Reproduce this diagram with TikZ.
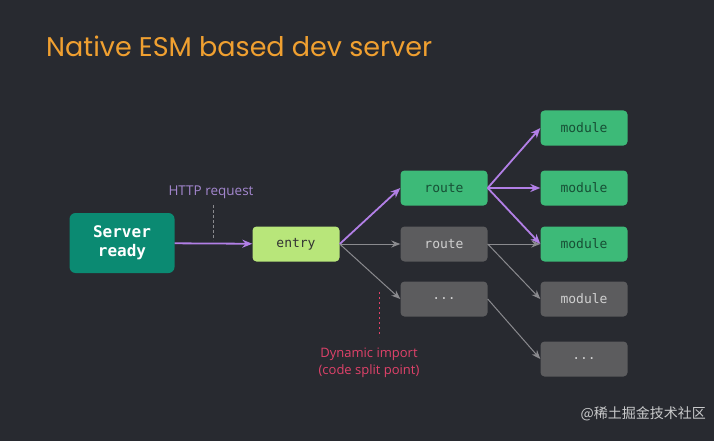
\documentclass[tikz,border=0pt]{standalone}
\usepackage{fontspec}
\setmainfont{Open Sans}
\newfontfamily\titlefont{Poppins}
\newfontfamily\codefont{DejaVu Sans Mono}
\newfontfamily\cjk{Noto Sans CJK SC}
\usetikzlibrary{arrows.meta}
\definecolor{bg}{HTML}{282A30}
\definecolor{ttl}{HTML}{F0A030}
\definecolor{teal}{HTML}{0B8A72}
\definecolor{lime}{HTML}{B8E67A}
\definecolor{grn}{HTML}{3DBA78}
\definecolor{grntxt}{HTML}{174F35}
\definecolor{gry}{HTML}{5C5C5E}
\definecolor{grytxt}{HTML}{D0D0D0}
\definecolor{purp}{HTML}{B27FE6}
\definecolor{lnk}{HTML}{8A8A8E}
\definecolor{httpc}{HTML}{A487CF}
\definecolor{dyn}{HTML}{E0426A}
\begin{document}
\begin{tikzpicture}[x=1pt,y=-1pt,
  box/.style={rounded corners=4pt,minimum width=87pt,minimum height=35pt,inner sep=0pt,font=\codefont\fontsize{13}{15}\selectfont},
  greenbox/.style={box,fill=grn,text=grntxt},
  graybox/.style={box,fill=gry,text=grytxt},
  hot/.style={draw=purp,line width=1.8pt,-{Stealth[length=10pt,width=8pt]}},
  cold/.style={draw=lnk,line width=1pt,-{Stealth[length=9pt,width=7pt]}},
  coldline/.style={draw=lnk,line width=1pt}]
\fill[bg] (0,0) rectangle (714,441);
\useasboundingbox (0,0) rectangle (714,441);
\node[anchor=base west,text=ttl,font=\titlefont\fontsize{27}{32}\selectfont,inner sep=0pt] (title) at (46,57) {Native ESM based dev server};
\node[box,fill=teal,text=white,minimum width=105pt,minimum height=60pt,rounded corners=6pt,font=\codefont\bfseries\fontsize{16}{19}\selectfont,align=center] (server) at (122,243) {Server\\ready};
\node[box,fill=lime,text=black!80] (entry) at (296,244) {entry};
\node[greenbox] (r1) at (444,188) {route};
\node[graybox] (r2) at (444,244) {route};
\node[graybox] (r3) at (444,299) {...};
\node[greenbox] (m1) at (584,128) {module};
\node[greenbox] (m2) at (584,188) {module};
\node[greenbox] (m3) at (584,244) {module};
\node[graybox] (m4) at (584,299) {module};
\node[graybox] (m5) at (584,359) {...};
\draw[hot] (server) -- (entry);
\draw[hot] (entry.east) -- (r1.west);
\draw[cold] (entry.east) -- (r2.west);
\draw[cold] (entry.east) -- (r3.west);
\draw[hot] (r1.east) -- (m1.west);
\draw[hot] (r1.east) -- (m2.west);
\draw[hot] (r1.east) -- (m3.west);
\draw[cold] (r2.east) -- (m3.west);
\draw[cold] (r2.east) -- (m4.west);
\draw[cold] (r3.east) -- (m5.west);
\node[text=httpc,font=\fontsize{13.5}{16}\selectfont] (http) at (211,192) {HTTP request};
\coordinate (h1) at (213,205);
\coordinate (h2) at (213,240);
\draw[lnk,line width=0.9pt,dash pattern=on 3pt off 2pt] (h1) -- (h2);
\node[text=dyn,font=\fontsize{13}{17}\selectfont,align=center] (dynlbl) at (369,363) {Dynamic import\\(code split point)};
\coordinate (d1) at (379,292);
\coordinate (d2) at (379,337);
\draw[dyn,line width=1pt,dash pattern=on 2pt off 3pt] (d1) -- (d2);
\node[anchor=east,text=white!75!bg,font=\cjk\fontsize{14}{16}\selectfont,inner sep=0pt] (wm) at (706,414) {@稀土掘金技术社区};
\end{tikzpicture}
\end{document}
